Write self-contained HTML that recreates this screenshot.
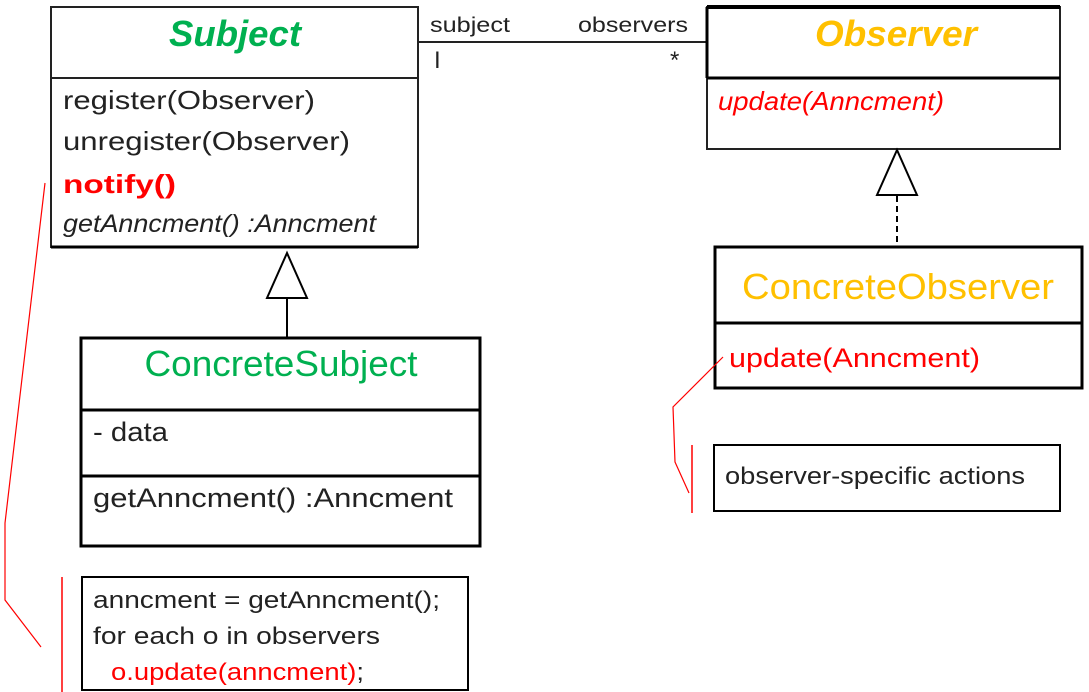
<!DOCTYPE html>
<html><head><meta charset="utf-8"><style>
html,body{margin:0;padding:0;background:#fff;}
svg{display:block;font-family:"Liberation Sans",sans-serif;}
</style></head><body>
<svg width="1089" height="692" viewBox="0 0 1089 692" xmlns="http://www.w3.org/2000/svg">
<rect x="51" y="7" width="367" height="240" fill="#fff" stroke="#222" stroke-width="2"/>
<line x1="51" y1="78" x2="418" y2="78" stroke="#222" stroke-width="2"/>
<line x1="51" y1="247" x2="418" y2="247" stroke="#000" stroke-width="3"/>
<text x="235" y="46" text-anchor="middle" font-size="36" font-weight="bold" font-style="italic" fill="#00b050" textLength="132" lengthAdjust="spacingAndGlyphs">Subject</text>
<g font-size="26" fill="#222">
<text x="63" y="109" textLength="252" lengthAdjust="spacingAndGlyphs">register(Observer)</text>
<text x="63" y="150" textLength="287" lengthAdjust="spacingAndGlyphs">unregister(Observer)</text>
<text x="63" y="193" font-weight="bold" fill="#ff0000" textLength="113" lengthAdjust="spacingAndGlyphs">notify()</text>
<text x="63" y="232" font-style="italic" font-size="25" textLength="313" lengthAdjust="spacingAndGlyphs">getAnncment() :Anncment</text>
</g>
<line x1="418" y1="42" x2="707" y2="42" stroke="#222" stroke-width="2"/>
<g font-size="21" fill="#222">
<text x="430" y="32" textLength="80" lengthAdjust="spacingAndGlyphs">subject</text>
<text x="578" y="32" textLength="110" lengthAdjust="spacingAndGlyphs">observers</text>
<text x="434" y="68" font-size="24">I</text>
<text x="670" y="68" font-size="24">*</text>
</g>
<rect x="707" y="7" width="353" height="142" fill="#fff" stroke="#222" stroke-width="2"/>
<line x1="707" y1="7" x2="1060" y2="7" stroke="#000" stroke-width="4"/>
<line x1="707" y1="7" x2="707" y2="78" stroke="#000" stroke-width="3"/>
<line x1="707" y1="78" x2="1060" y2="78" stroke="#000" stroke-width="3"/>
<text x="896" y="46" text-anchor="middle" font-size="36" font-weight="bold" font-style="italic" fill="#ffc000" textLength="162" lengthAdjust="spacingAndGlyphs">Observer</text>
<text x="718" y="110" font-size="26" font-style="italic" fill="#ff0000" textLength="226" lengthAdjust="spacingAndGlyphs">update(Anncment)</text>
<polygon points="897,150 877,195 917,195" fill="#fff" stroke="#000" stroke-width="2"/>
<line x1="897" y1="196" x2="897" y2="245" stroke="#000" stroke-width="2" stroke-dasharray="6,4"/>
<rect x="715" y="247" width="367" height="141" fill="#fff" stroke="#000" stroke-width="3"/>
<line x1="715" y1="323" x2="1082" y2="323" stroke="#000" stroke-width="3"/>
<text x="898" y="299" text-anchor="middle" font-size="36" fill="#ffc000" textLength="312" lengthAdjust="spacingAndGlyphs">ConcreteObserver</text>
<text x="729" y="367" font-size="27" fill="#ff0000" textLength="251" lengthAdjust="spacingAndGlyphs">update(Anncment)</text>
<polyline points="723,357 673,407 675,462 689,493" fill="none" stroke="#ff0000" stroke-width="1.2"/>
<line x1="692" y1="445" x2="692" y2="513" stroke="#ff0000" stroke-width="1.5"/>
<rect x="714" y="445" width="346" height="66" fill="#fff" stroke="#000" stroke-width="2"/>
<text x="725" y="484" font-size="24" fill="#222" textLength="300" lengthAdjust="spacingAndGlyphs">observer-specific actions</text>
<polygon points="287,253 267,298 307,298" fill="#fff" stroke="#000" stroke-width="2"/>
<line x1="287" y1="298" x2="287" y2="338" stroke="#000" stroke-width="2"/>
<rect x="81" y="338" width="399" height="208" fill="#fff" stroke="#000" stroke-width="3"/>
<line x1="81" y1="410" x2="480" y2="410" stroke="#000" stroke-width="3"/>
<line x1="81" y1="476" x2="480" y2="476" stroke="#000" stroke-width="3"/>
<text x="281" y="376" text-anchor="middle" font-size="36" fill="#00b050" textLength="273" lengthAdjust="spacingAndGlyphs">ConcreteSubject</text>
<text x="93" y="441" font-size="27" fill="#222" textLength="75" lengthAdjust="spacingAndGlyphs">- data</text>
<text x="93" y="507" font-size="27" fill="#222" textLength="360" lengthAdjust="spacingAndGlyphs">getAnncment() :Anncment</text>
<polyline points="45,183 5,523 5,600 41,647" fill="none" stroke="#ff0000" stroke-width="1.2"/>
<line x1="62" y1="577" x2="62" y2="692" stroke="#ff0000" stroke-width="1.5"/>
<rect x="82" y="577" width="386" height="113" fill="#fff" stroke="#000" stroke-width="2"/>
<g font-size="24" fill="#222">
<text x="93" y="608" textLength="347" lengthAdjust="spacingAndGlyphs">anncment = getAnncment();</text>
<text x="93" y="644" textLength="287" lengthAdjust="spacingAndGlyphs">for each o in observers</text>
<text x="111" y="680" textLength="253" lengthAdjust="spacingAndGlyphs"><tspan fill="#ff0000">o.update(anncment)</tspan>;</text>
</g>
</svg>
</body></html>
